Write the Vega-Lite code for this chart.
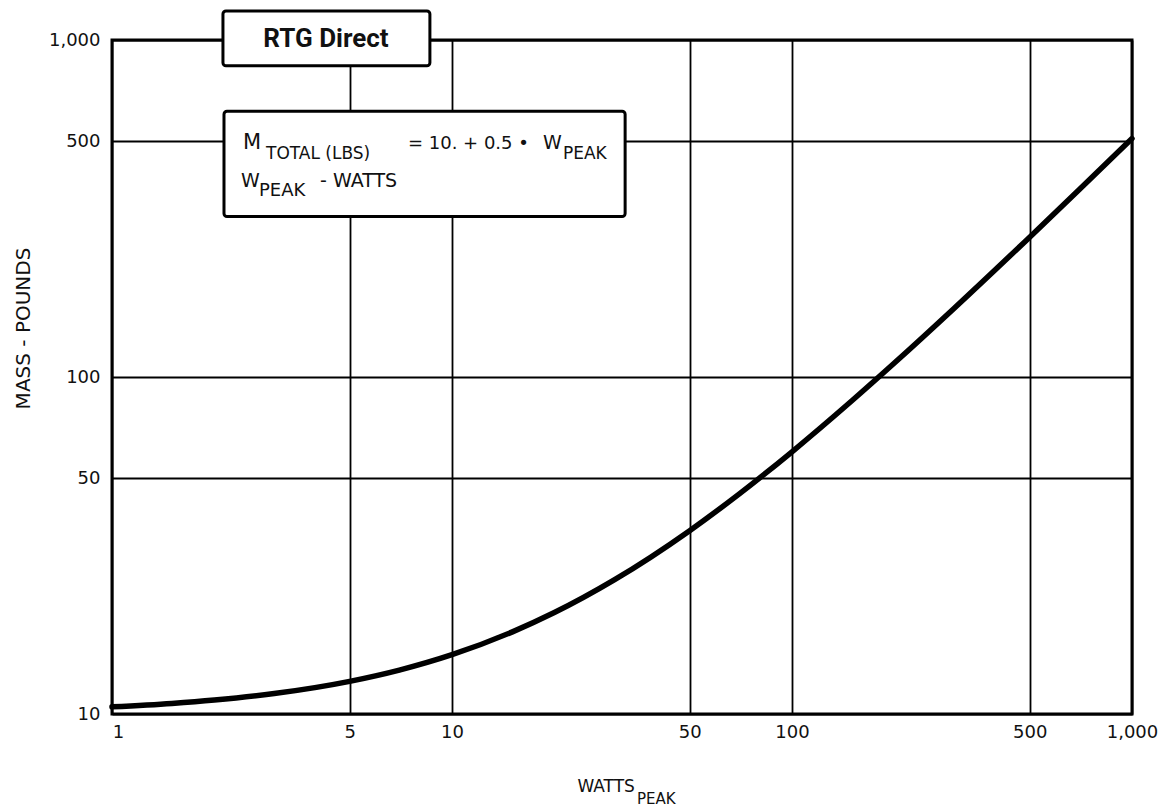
{
  "$schema": "https://vega.github.io/schema/vega-lite/v6.json",
  "width": 1020,
  "height": 674,
  "autosize": {"type": "none"},
  "padding": {"left": 112, "top": 40, "right": 27, "bottom": 93},
  "background": "white",
  "config": {
    "view": {"stroke": "black", "strokeWidth": 3},
    "font": "DejaVu Sans",
    "text": {"font": "DejaVu Sans", "color": "#111"}
  },
  "datasets": {
    "curve": [
      {"watts": 1, "mass": 10.5},
      {"watts": 1.5, "mass": 10.75},
      {"watts": 2, "mass": 11},
      {"watts": 3, "mass": 11.5},
      {"watts": 5, "mass": 12.5},
      {"watts": 7, "mass": 13.5},
      {"watts": 10, "mass": 15},
      {"watts": 15, "mass": 17.5},
      {"watts": 20, "mass": 20},
      {"watts": 30, "mass": 25},
      {"watts": 50, "mass": 35},
      {"watts": 70, "mass": 45},
      {"watts": 100, "mass": 60},
      {"watts": 150, "mass": 85},
      {"watts": 200, "mass": 110},
      {"watts": 300, "mass": 160},
      {"watts": 500, "mass": 260},
      {"watts": 700, "mass": 360},
      {"watts": 1000, "mass": 510}
    ],
    "one": [{"k": 1}]
  },
  "layer": [
    {
      "data": {"name": "curve"},
      "mark": {"type": "line", "interpolate": "monotone", "color": "black", "strokeWidth": 5.5, "strokeCap": "round", "clip": false},
      "encoding": {
        "x": {
          "field": "watts", "type": "quantitative",
          "scale": {"type": "log", "domain": [1, 1000], "nice": false},
          "axis": {
            "values": [1, 5, 10, 50, 100, 500, 1000],
            "format": ",",
            "title": null,
            "grid": true, "gridColor": "black", "gridWidth": 1.8, "gridOpacity": 1,
            "domain": false, "ticks": false,
            "labelFont": "DejaVu Sans", "labelFontSize": 18, "labelColor": "#111",
            "labelPadding": 9, "labelFlush": false, "labelOverlap": false,
            "labelOffset": {"condition": {"test": "datum.value == 1", "value": 6}, "value": 0}
          }
        },
        "y": {
          "field": "mass", "type": "quantitative",
          "scale": {"type": "log", "domain": [10, 1000], "nice": false},
          "axis": {
            "values": [10, 50, 100, 500, 1000],
            "format": ",",
            "title": "MASS - POUNDS",
            "titleFont": "DejaVu Sans", "titleFontSize": 20, "titleFontWeight": "normal", "titleColor": "#111",
            "titleX": -89, "titleY": 288, "titleAngle": -90, "titleAlign": "center", "titleBaseline": "middle",
            "grid": true, "gridColor": "black", "gridWidth": 1.8, "gridOpacity": 1,
            "domain": false, "ticks": false,
            "labelFont": "DejaVu Sans", "labelFontSize": 18, "labelColor": "#111",
            "labelPadding": 12, "labelFlush": false, "labelOverlap": false
          }
        }
      }
    },
    {
      "data": {"name": "one"},
      "mark": {"type": "rect", "fill": "white", "stroke": "black", "strokeWidth": 3, "cornerRadius": 3, "clip": false},
      "encoding": {
        "x": {"datum": 2.12, "type": "quantitative"},
        "x2": {"datum": 8.61},
        "y": {"datum": 1219, "type": "quantitative"},
        "y2": {"datum": 838}
      }
    },
    {
      "data": {"name": "one"},
      "mark": {"type": "text", "align": "center", "baseline": "middle", "font": "Roboto", "fontSize": 26, "fontWeight": "bold", "color": "#111"},
      "encoding": {
        "x": {"datum": 4.26, "type": "quantitative"},
        "y": {"datum": 1007, "type": "quantitative"},
        "text": {"value": "RTG Direct"}
      }
    },
    {
      "data": {"name": "one"},
      "mark": {"type": "rect", "fill": "white", "stroke": "black", "strokeWidth": 3, "cornerRadius": 3, "clip": false},
      "encoding": {
        "x": {"datum": 2.135, "type": "quantitative"},
        "x2": {"datum": 32.3},
        "y": {"datum": 614.9, "type": "quantitative"},
        "y2": {"datum": 299.3}
      }
    },
    {
      "data": {"name": "one"},
      "mark": {"type": "text", "align": "left", "baseline": "alphabetic", "fontSize": 21},
      "encoding": {
        "x": {"datum": 2.43, "type": "quantitative"},
        "y": {"datum": 473.8, "type": "quantitative"},
        "text": {"value": "M"}
      }
    },
    {
      "data": {"name": "one"},
      "mark": {"type": "text", "align": "left", "baseline": "alphabetic", "fontSize": 17},
      "encoding": {
        "x": {"datum": 2.838, "type": "quantitative"},
        "y": {"datum": 442.4, "type": "quantitative"},
        "text": {"value": "TOTAL (LBS)"}
      }
    },
    {
      "data": {"name": "one"},
      "mark": {"type": "text", "align": "left", "baseline": "alphabetic", "fontSize": 18},
      "encoding": {
        "x": {"datum": 7.42, "type": "quantitative"},
        "y": {"datum": 473.8, "type": "quantitative"},
        "text": {"value": "= 10.  + 0.5 •"}
      }
    },
    {
      "data": {"name": "one"},
      "mark": {"type": "text", "align": "left", "baseline": "alphabetic", "fontSize": 19},
      "encoding": {
        "x": {"datum": 18.52, "type": "quantitative"},
        "y": {"datum": 473.8, "type": "quantitative"},
        "text": {"value": "W"}
      }
    },
    {
      "data": {"name": "one"},
      "mark": {"type": "text", "align": "left", "baseline": "alphabetic", "fontSize": 17},
      "encoding": {
        "x": {"datum": 21.2, "type": "quantitative"},
        "y": {"datum": 442.4, "type": "quantitative"},
        "text": {"value": "PEAK"}
      }
    },
    {
      "data": {"name": "one"},
      "mark": {"type": "text", "align": "left", "baseline": "alphabetic", "fontSize": 19},
      "encoding": {
        "x": {"datum": 2.396, "type": "quantitative"},
        "y": {"datum": 365.2, "type": "quantitative"},
        "text": {"value": "W"}
      }
    },
    {
      "data": {"name": "one"},
      "mark": {"type": "text", "align": "left", "baseline": "alphabetic", "fontSize": 18},
      "encoding": {
        "x": {"datum": 2.706, "type": "quantitative"},
        "y": {"datum": 343.4, "type": "quantitative"},
        "text": {"value": "PEAK"}
      }
    },
    {
      "data": {"name": "one"},
      "mark": {"type": "text", "align": "left", "baseline": "alphabetic", "fontSize": 19},
      "encoding": {
        "x": {"datum": 4.09, "type": "quantitative"},
        "y": {"datum": 365.2, "type": "quantitative"},
        "text": {"value": "- WATTS"}
      }
    },
    {
      "data": {"name": "one"},
      "mark": {"type": "text", "align": "right", "baseline": "alphabetic", "fontSize": 17},
      "encoding": {
        "x": {"datum": 34.5, "type": "quantitative"},
        "y": {"datum": 5.86, "type": "quantitative"},
        "text": {"value": "WATTS"}
      }
    },
    {
      "data": {"name": "one"},
      "mark": {"type": "text", "align": "left", "baseline": "alphabetic", "fontSize": 15},
      "encoding": {
        "x": {"datum": 35.0, "type": "quantitative"},
        "y": {"datum": 5.40, "type": "quantitative"},
        "text": {"value": "PEAK"}
      }
    }
  ]
}
